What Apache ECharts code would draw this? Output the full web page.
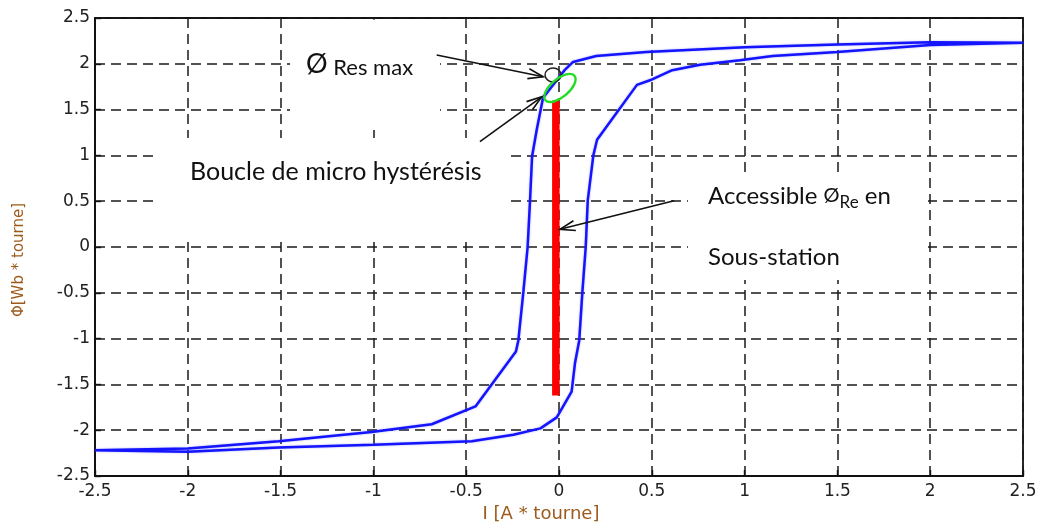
<!DOCTYPE html>
<html>
<head>
<meta charset="utf-8">
<script src="https://cdn.jsdelivr.net/npm/echarts@6/dist/echarts.min.js"></script>
<style>
  html, body { margin: 0; padding: 0; background: #ffffff; }
  #chart { width: 1040px; height: 523px; }
</style>
</head>
<body>
<div id="chart"></div>
<script>
// Hysteresis loop, upper branch (flux decreasing, I from +2.5 to -2.5)
const descendingBranch = [
  [2.5, 2.23], [2.0, 2.235], [1.5, 2.21], [1.0, 2.18], [0.47, 2.13],
  [0.2, 2.085], [0.076, 2.02], [0.03, 1.93], [-0.086, 1.63], [-0.12, 1.28],
  [-0.145, 0.99], [-0.156, 0.51], [-0.169, 0.0], [-0.192, -0.49], [-0.219, -1.02],
  [-0.232, -1.14], [-0.45, -1.74], [-0.686, -1.935], [-1.01, -2.02], [-1.51, -2.12],
  [-2.0, -2.2], [-2.5, -2.22]
];

// Hysteresis loop, lower branch (flux increasing, I from -2.5 to +2.5)
const ascendingBranch = [
  [-2.5, -2.235], [-2.0, -2.235], [-1.51, -2.19], [-1.0, -2.16], [-0.47, -2.12],
  [-0.246, -2.05], [-0.1, -1.98], [-0.012, -1.86], [0.068, -1.58], [0.086, -1.27],
  [0.109, -1.02], [0.126, -0.49], [0.144, 0.0], [0.155, 0.51], [0.185, 1.0],
  [0.205, 1.17], [0.42, 1.77], [0.49, 1.82], [0.61, 1.93], [0.76, 1.99],
  [0.975, 2.04], [1.15, 2.085], [1.5, 2.13], [2.0, 2.205], [2.5, 2.23]
];

// Range of residual flux reachable at the substation
const residualFluxRange = [[-0.017, -1.62], [-0.017, 1.6]];

// Axis ticks
const xTickValues = [-2.5, -2, -1.5, -1, -0.5, 0, 0.5, 1, 1.5, 2, 2.5];
const xTickLabels = ['-2.5', '-2', '-1.5', '-1', '-0.5', '0', '0.5', '1', '1.5', '2', '2.5'];
const yTickValues = [-2.5, -2, -1.5, -1, -0.5, 0, 0.5, 1, 1.5, 2, 2.5];
const yTickLabels = ['-2.5', '-2', '-1.5', '-1', '-0.5', '0', '0.5', '1', '1.5', '2', '2.5'];

// Annotation anchors, in axis units
const maxResidualMarker = [[-0.032, 1.878]];          // small circle
const microLoopMarker = [[0.005, 1.736]];             // tilted ellipse
const arrowSegments = [                                // [xFrom, yFrom, xTo, yTo]
  [-0.659, 2.096, -0.085, 1.859],
  [-0.426, 1.15, -0.093, 1.64],
  [0.62, 0.505, 0.005, 0.193]
];
const labelBackdrops = [                               // [xLeft, yTop, xRight, yBottom]
  [-1.449, 2.48, -0.641, 1.31],
  [-2.166, 1.19, -0.275, 0.098],
  [0.695, 0.753, 1.988, -0.36]
];
const noteAnchors = [[-1.363, 1.998], [-1.988, 0.819], [0.803, 0.557], [0.803, -0.109]];
const noteTexts = [
  '{big|Ø}{sub| Res max}',
  'Boucle de micro hystérésis',
  'Accessible {big2|Ø}{sub2|Re}{txt| en}',
  'Sous-station'
];

const noteFont = 'Lato, "Open Sans", sans-serif';

function labelFor(values, labels) {
  return function (v) {
    const i = values.findIndex(t => Math.abs(t - v) < 1e-9);
    return i >= 0 ? labels[i] : '';
  };
}

const chart = echarts.init(document.getElementById('chart'), null, { renderer: 'canvas' });

const gridDash = { type: [10, 6], color: '#1a1a1a', width: 1.5 };

chart.setOption({
  animation: false,
  backgroundColor: '#ffffff',
  grid: {
    left: 95, right: 17, top: 18, bottom: 47,
    outerBoundsMode: 'none',
    show: true, borderColor: '#111', borderWidth: 1.8, backgroundColor: 'transparent'
  },
  xAxis: {
    type: 'value', min: -2.5, max: 2.5, interval: 0.5,
    name: 'I [A * tourne]', nameLocation: 'middle', nameGap: 27,
    nameTextStyle: { color: '#9c5a1c', fontSize: 18, fontFamily: 'DejaVu Sans', padding: [0, 36, 0, 0] },
    axisLine: { show: true, onZero: false, lineStyle: { color: '#111', width: 1.8 } },
    axisTick: { show: true, inside: true, length: 6, lineStyle: { color: '#111', width: 1.4 } },
    axisLabel: { color: '#222', fontSize: 17, fontFamily: 'DejaVu Sans', margin: 7, formatter: labelFor(xTickValues, xTickLabels) },
    splitLine: { show: true, lineStyle: gridDash }
  },
  yAxis: {
    type: 'value', min: -2.5, max: 2.5, interval: 0.5,
    name: 'Φ[Wb * tourne]', nameLocation: 'middle', nameGap: 68, nameRotate: 90,
    nameTextStyle: { color: '#9c5a1c', fontSize: 15, fontFamily: 'DejaVu Sans', padding: [0, 26, 0, 0] },
    axisLine: { show: true, onZero: false, lineStyle: { color: '#111', width: 1.8 } },
    axisTick: { show: true, inside: true, length: 6, lineStyle: { color: '#111', width: 1.4 } },
    axisLabel: { color: '#222', fontSize: 17, fontFamily: 'DejaVu Sans', margin: 5, formatter: labelFor(yTickValues, yTickLabels) },
    splitLine: { show: true, lineStyle: gridDash }
  },
  series: [
    {
      // white boxes behind the annotation texts
      type: 'custom', z: 1, silent: true,
      data: labelBackdrops,
      renderItem: function (params, api) {
        const a = api.coord([api.value(0), api.value(1)]);
        const b = api.coord([api.value(2), api.value(3)]);
        return { type: 'rect', shape: { x: a[0], y: a[1], width: b[0] - a[0], height: b[1] - a[1] }, style: { fill: '#ffffff' } };
      }
    },
    {
      type: 'line', z: 3, showSymbol: false, silent: true,
      data: descendingBranch.concat(ascendingBranch),
      lineStyle: { color: '#1414ff', width: 2.5, shadowColor: 'rgba(60,60,255,0.45)', shadowBlur: 2 }
    },
    {
      type: 'line', z: 3, showSymbol: false, silent: true,
      data: residualFluxRange,
      lineStyle: { color: '#ff0000', width: 7.5, cap: 'butt' }
    },
    {
      // maximum residual flux marker
      type: 'custom', z: 5, silent: true,
      data: maxResidualMarker,
      renderItem: function (params, api) {
        const c = api.coord([api.value(0), api.value(1)]);
        return {
          type: 'path', x: c[0], y: c[1],
          shape: { pathData: 'M -1 0 A 1 1 0 1 0 1 0 A 1 1 0 1 0 -1 0 Z', x: -8, y: -7, width: 16, height: 14, layout: 'cover' },
          style: { fill: 'none', stroke: '#222', lineWidth: 1.5 }
        };
      }
    },
    {
      // micro hysteresis loop marker
      type: 'custom', z: 5, silent: true,
      data: microLoopMarker,
      renderItem: function (params, api) {
        const c = api.coord([api.value(0), api.value(1)]);
        return {
          type: 'path', x: c[0], y: c[1], rotation: 0.7,
          shape: { pathData: 'M -1 0 A 1 1 0 1 0 1 0 A 1 1 0 1 0 -1 0 Z', x: -19, y: -9, width: 38, height: 18, layout: 'cover' },
          style: { fill: 'none', stroke: '#22dd22', lineWidth: 2.4 }
        };
      }
    },
    {
      // arrows pointing at the annotated features
      type: 'custom', z: 6, silent: true,
      data: arrowSegments,
      renderItem: function (params, api) {
        const p0 = api.coord([api.value(0), api.value(1)]);
        const p1 = api.coord([api.value(2), api.value(3)]);
        const ang = Math.atan2(p1[1] - p0[1], p1[0] - p0[0]);
        const len = 16, spread = 0.32;
        const h1 = [p1[0] - len * Math.cos(ang - spread), p1[1] - len * Math.sin(ang - spread)];
        const h2 = [p1[0] - len * Math.cos(ang + spread), p1[1] - len * Math.sin(ang + spread)];
        return {
          type: 'group',
          children: [
            { type: 'line', shape: { x1: p0[0], y1: p0[1], x2: p1[0], y2: p1[1] }, style: { stroke: '#111', lineWidth: 1.6 } },
            { type: 'polyline', shape: { points: [h1, p1, h2] }, style: { stroke: '#111', lineWidth: 1.6, fill: 'none' } }
          ]
        };
      }
    },
    {
      // annotation texts
      type: 'custom', z: 7, silent: true,
      data: noteAnchors,
      renderItem: function (params, api) {
        const c = api.coord([api.value(0), api.value(1)]);
        const size = params.dataIndex === 1 ? 25 : 24;
        return {
          type: 'text', x: c[0], y: c[1],
          style: {
            text: noteTexts[params.dataIndex],
            fill: '#111', fontSize: size, fontFamily: noteFont,
            align: 'left', verticalAlign: 'middle',
            rich: {
              big: { fontSize: 27, fontFamily: noteFont, fill: '#111', verticalAlign: 'middle', lineHeight: 30 },
              sub: { fontSize: 22, fontFamily: noteFont, fill: '#111', verticalAlign: 'bottom', lineHeight: 30 },
              big2: { fontSize: 20, fontFamily: noteFont, fill: '#111', verticalAlign: 'middle', lineHeight: 30 },
              sub2: { fontSize: 17, fontFamily: noteFont, fill: '#111', verticalAlign: 'bottom', lineHeight: 30 },
              txt: { fontSize: 24, fontFamily: noteFont, fill: '#111', verticalAlign: 'middle', lineHeight: 30 }
            }
          }
        };
      }
    }
  ]
});
</script>
</body>
</html>
